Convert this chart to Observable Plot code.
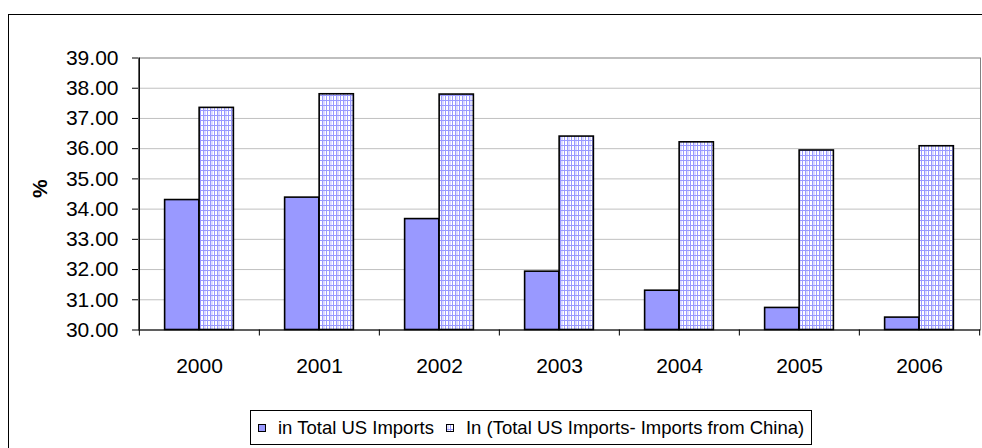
<!DOCTYPE html>
<html>
<head>
<meta charset="utf-8">
<script src="https://cdn.jsdelivr.net/npm/d3@7"></script>
<script src="https://cdn.jsdelivr.net/npm/@observablehq/plot@0.6"></script>
<style>
  html, body { margin: 0; padding: 0; background: #fff; }
  #chart { position: relative; width: 982px; height: 448px; overflow: hidden;
           font-family: "Liberation Sans", Arial, sans-serif; color: #000; }
  #chart > svg { position: absolute; left: 0; top: 0; }
  #outer { position: absolute; left: 8px; top: 14px; width: 1000px; height: 500px;
           border: 1px solid #000; pointer-events: none; }
  #legend { position: absolute; left: 250px; top: 410px; height: 35px; box-sizing: border-box;
            border: 1px solid #000; display: flex; align-items: center; padding: 0 7px;
            font-size: 18.5px; white-space: nowrap; background: #fff; }
  #legend .item { display: flex; align-items: center; margin-right: 12px; }
  #legend .item:last-child { margin-right: 0; }
  #legend svg { display: block; margin-right: 12px; }
</style>
</head>
<body>
<div id="chart">
  <div id="outer"></div>
  <div id="legend"></div>
</div>
<script>
// Share (%) by year
const years = ["2000", "2001", "2002", "2003", "2004", "2005", "2006"];
const shareTotal = [34.30, 34.38, 33.67, 31.93, 31.30, 30.73, 30.41];
const shareExChina = [37.35, 37.80, 37.79, 36.40, 36.21, 35.94, 36.08];
const seriesNames = ["in Total US Imports", "In (Total US Imports- Imports from China)"];
const yTicks = [30, 31, 32, 33, 34, 35, 36, 37, 38, 39];
const yLabel = "%";

const W = 982, H = 448;
const mL = 138, mR = 2, mT = 57.5, mB = 118.5;
const bw = (W - mL - mR) / years.length;   // width of one year band
const outerGap = bw * 0.213;                // space left of the first bar / right of the second

const rows = years.map((year, i) => ({year, total: shareTotal[i], exChina: shareExChina[i]}));
const yBase = yTicks[0];
const yTop = yTicks[yTicks.length - 1];

const svg = Plot.plot({
  width: W,
  height: H,
  marginLeft: mL,
  marginRight: mR,
  marginTop: mT,
  marginBottom: mB,
  style: {fontFamily: '"Liberation Sans", Arial, sans-serif', fontSize: "21px", color: "#000", background: "transparent", overflow: "visible"},
  x: {type: "band", domain: years, padding: 0, tickSize: 0, tickPadding: 28, label: null},
  y: {domain: [yBase, yTop], ticks: yTicks, tickFormat: d3.format(".2f"), tickSize: 6, tickPadding: 14, label: null},
  marks: [
    // horizontal gridlines
    Plot.ruleY(yTicks.slice(1, -1), {stroke: "#c0c0c0", strokeWidth: 1}),
    // plot area outline (top and right in grey)
    Plot.frame({stroke: "#808080", strokeWidth: 1}),
    // bars: share in total imports
    Plot.barY(rows, {x: "year", y1: yBase, y2: "total", fill: "#9999ff", stroke: "#000", strokeWidth: 1.6,
                     insetLeft: outerGap, insetRight: bw / 2}),
    // bars: share in imports excluding China (grid pattern)
    Plot.barY(rows, {x: "year", y1: yBase, y2: "exChina", fill: "url(#grid)", stroke: "#000", strokeWidth: 1.6,
                     insetLeft: bw / 2, insetRight: outerGap}),
    // baseline and value axis line
    Plot.ruleY([yBase], {stroke: "#000", strokeWidth: 1.2}),
    Plot.ruleX([years[0]], {dx: -bw / 2, stroke: "#000", strokeWidth: 1.2}),
    // category boundary ticks below the baseline
    Plot.ruleX(years, {x: d => d, y1: yBase, y2: yBase, insetBottom: -6, dx: -bw / 2, stroke: "#000"}),
    Plot.ruleX([years[years.length - 1]], {y1: yBase, y2: yBase, insetBottom: -6, dx: bw / 2, stroke: "#000"}),
    // axis title
    Plot.text([yLabel], {text: d => d, frameAnchor: "left", dx: -98, dy: 4, rotate: -90, fontWeight: "bold", fontSize: 21})
  ]
});

// grid fill pattern for the second series
function addPattern(target) {
  const defs = d3.select(target).insert("defs", ":first-child");
  const p = defs.append("pattern").attr("id", "grid").attr("patternUnits", "userSpaceOnUse")
    .attr("width", 7).attr("height", 5);
  p.append("rect").attr("width", 7).attr("height", 5).attr("fill", "#ffffff");
  p.append("rect").attr("x", 1).attr("width", 2).attr("height", 5).attr("fill", "#dcdcff");
  p.append("rect").attr("x", 0).attr("width", 1).attr("height", 5).attr("fill", "#9999ff");
  p.append("rect").attr("x", 4).attr("width", 1).attr("height", 5).attr("fill", "#9999ff");
  p.append("rect").attr("y", 0).attr("width", 7).attr("height", 1).attr("fill", "#9999ff");
}
addPattern(svg);
document.getElementById("chart").insertBefore(svg, document.getElementById("outer"));

// legend
const legend = d3.select("#legend");
const swatchFills = ["#9999ff", "url(#grid)"];
seriesNames.forEach((name, i) => {
  const item = legend.append("div").attr("class", "item");
  const s = item.append("svg").attr("width", 8).attr("height", 8);
  s.append("rect").attr("x", 0.5).attr("y", 0.5).attr("width", 7).attr("height", 7)
    .attr("fill", swatchFills[i]).attr("stroke", "#000").attr("stroke-width", 1);
  item.append("span").text(name);
});
</script>
</body>
</html>
